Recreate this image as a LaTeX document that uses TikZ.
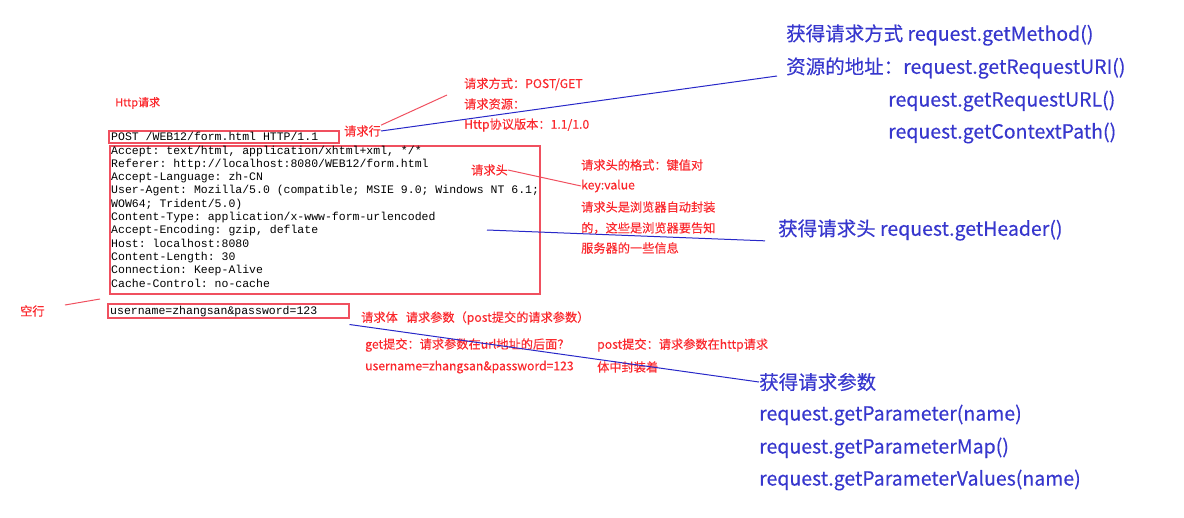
\documentclass[tikz,border=0pt]{standalone}
\usepackage{fontspec}
\setmonofont{Liberation Mono}
\newfontfamily\cjk[FakeBold=0.25]{Noto Sans CJK SC}
\definecolor{notered}{RGB}{250,40,45}
\definecolor{boxred}{RGB}{240,80,95}
\definecolor{noteblue}{RGB}{55,55,205}
\definecolor{lineblue}{RGB}{40,40,200}
\tikzset{
  redtxt/.style={anchor=west, inner sep=0pt, text=notered, font=\cjk\fontsize{12.2}{14}\selectfont},
  bluetxt/.style={anchor=west, inner sep=0pt, text=noteblue, font=\cjk\fontsize{19.5}{22}\selectfont},
  monotxt/.style={anchor=base west, inner sep=0pt, font=\ttfamily\fontsize{11.5}{13.3}\selectfont},
  redbox/.style={draw=boxred, line width=1.5pt, inner sep=0pt, anchor=north west},
  redline/.style={draw=boxred, line width=1pt},
  blueline/.style={draw=lineblue, line width=1pt},
}
\begin{document}
\begin{tikzpicture}[x=1pt, y=-1pt]
    \useasboundingbox (0,0) rectangle (1184,517);

    % Request message boxes
    \node[redbox, minimum width=230pt, minimum height=12pt] (linebox) at (108,130) {};
    \node[redbox, minimum width=430pt, minimum height=148pt] (hdrbox) at (109,145) {};
    \node[redbox, minimum width=241pt, minimum height=14pt] (bodybox) at (107,303) {};

    % Request line
    \node[monotxt] (reqline) at (111,140) {POST /WEB12/form.html HTTP/1.1};

    % Header lines
    \foreach \t [count=\i] in {
        {Accept: text/html, application/xhtml+xml, */*},
        {Referer: http://localhost:8080/WEB12/form.html},
        {Accept-Language: zh-CN},
        {User-Agent: Mozilla/5.0 (compatible; MSIE 9.0; Windows NT 6.1;},
        {WOW64; Trident/5.0)},
        {Content-Type: application/x-www-form-urlencoded},
        {Accept-Encoding: gzip, deflate},
        {Host: localhost:8080},
        {Content-Length: 30},
        {Connection: Keep-Alive},
        {Cache-Control: no-cache}}
        \node[monotxt] (hdr\i) at (111,{154+13.3*(\i-1)}) {\t};

    % Request body
    \node[monotxt] (body) at (110,314) {username=zhangsan\&password=123};

    % Red notes
    \node[redtxt, font=\cjk\fontsize{11}{13}\selectfont] (httpreq) at (115,103) {Http请求};
    \node[redtxt] (lblline) at (344,131) {请求行};
    \node[redtxt] (method) at (464,84) {请求方式：POST/GET};
    \node[redtxt] (resource) at (464,104) {请求资源：};
    \node[redtxt] (version) at (464,125) {Http协议版本：1.1/1.0};
    \node[redtxt] (lblhead) at (471,170) {请求头};
    \node[redtxt] (fmt1) at (581,165) {请求头的格式：键值对};
    \node[redtxt] (fmt2) at (581,186) {key:value};
    \node[redtxt] (fmt3) at (581,207) {请求头是浏览器自动封装};
    \node[redtxt] (fmt4) at (581,228) {的，这些是浏览器要告知};
    \node[redtxt] (fmt5) at (581,248) {服务器的一些信息};
    \node[redtxt] (blank) at (20,311) {空行};
    \node[redtxt] (lblbody) at (361,318) {请求体\hspace{8pt}请求参数（post提交的请求参数）};
    \node[redtxt] (get1) at (365,345) {get提交：请求参数在url地址的后面？};
    \node[redtxt] (get2) at (365,367) {username=zhangsan\&password=123};
    \node[redtxt] (post1) at (597,345) {post提交：请求参数在http请求};
    \node[redtxt] (post2) at (597,367) {体中封装着};

    % Blue notes
    \node[bluetxt] (getmethod) at (786,35) {获得请求方式 request.getMethod()};
    \node[bluetxt] (geturi) at (786,68) {资源的地址：request.getRequestURI()};
    \node[bluetxt] (geturl) at (888,101) {request.getRequestURL()};
    \node[bluetxt] (getctx) at (888,133) {request.getContextPath()};
    \node[bluetxt] (getheader) at (778,230) {获得请求头 request.getHeader()};
    \node[bluetxt] (getparam) at (759,382) {获得请求参数};
    \node[bluetxt] (param1) at (759,415) {request.getParameter(name)};
    \node[bluetxt] (param2) at (759,448) {request.getParameterMap()};
    \node[bluetxt] (param3) at (759,480) {request.getParameterValues(name)};

    % Free ends
    \coordinate (methodtip) at (447,95);
    \coordinate (hdrtail) at (487,230);
    \coordinate (blanktail) at (65,305);

    % Red connectors
    \draw[redline] (lblline.north east) -- (methodtip);
    \draw[redline] (lblhead.east) -- (fmt2.west);
    \draw[redline] (blanktail) -- ([xshift=-7pt,yshift=4pt]bodybox.north west);

    % Blue connectors
    \draw[blueline] (lblline.east) -- ([xshift=-9pt,yshift=-8pt]geturi.west);
    \draw[blueline] (hdrtail) -- ([xshift=-13pt]getheader.south west);
    \draw[blueline] ([yshift=-6pt]bodybox.south east) -- (getparam.west);
\end{tikzpicture}
\end{document}
